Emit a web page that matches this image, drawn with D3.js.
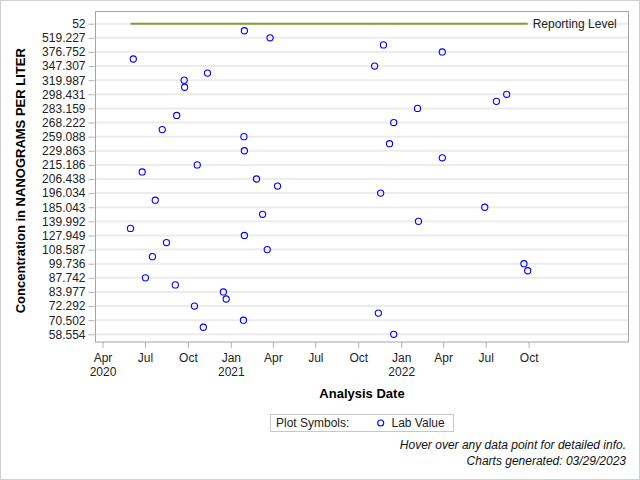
<!DOCTYPE html>
<html>
<head>
<meta charset="utf-8">
<script src="https://cdn.jsdelivr.net/npm/d3@7"></script>
<style>
  html, body { margin: 0; padding: 0; background: #fff; }
  svg { display: block; font-family: "Liberation Sans", Arial, sans-serif; }
</style>
</head>
<body>
<svg id="chart" width="640" height="480"></svg>
<script>
// ---- Data ----
const reportingLevel = "52";
const sampleDates = [
  "2021-01-30","2021-03-26","2021-11-24","2022-03-30","2020-06-06","2021-11-05",
  "2020-11-12","2020-09-23","2020-09-24","2022-08-15","2022-07-24","2022-02-05",
  "2020-09-07","2021-12-16","2020-08-07","2021-01-29","2021-12-07","2021-01-30",
  "2022-03-30","2020-10-21","2020-06-25","2021-02-25","2021-04-11","2021-11-18",
  "2020-07-23","2022-06-29","2021-03-10","2022-02-07","2020-05-31","2021-01-30",
  "2020-08-16","2021-03-20","2020-07-17","2022-09-21","2022-09-29","2020-07-02",
  "2020-09-04","2020-12-16","2020-12-22","2020-10-15","2021-11-13","2021-01-28",
  "2020-11-03","2021-12-16"
];
const sampleValues = [
  "612.45","519.227","402.118","376.752","361.04","347.307",
  "331.562","319.987","308.715","298.431","290.874","283.159",
  "275.603","268.222","263.41","259.088","243.567","229.863",
  "221.35","215.186","210.972","206.438","201.28","196.034",
  "190.615","185.043","162.47","139.992","134.118","127.949",
  "117.305","108.587","103.92","99.736","93.461","87.742",
  "85.83","83.977","78.126","72.292","71.384","70.502",
  "64.207","58.554"
];
const yTickLabels = [
  "52","519.227","376.752","347.307","319.987","298.431","283.159","268.222",
  "259.088","229.863","215.186","206.438","196.034","185.043","139.992","127.949",
  "108.587","99.736","87.742","83.977","72.292","70.502","58.554"
];
const xTickDates = [
  "2020-04-01","2020-07-01","2020-10-01","2021-01-01","2021-04-01","2021-07-01",
  "2021-10-01","2022-01-01","2022-04-01","2022-07-01","2022-10-01"
];
const xDomain = ["2020-03-17","2023-05-03"];

// ---- Setup ----
const parse = d3.timeParse("%Y-%m-%d");
const points = sampleDates.map((d, i) => ({ date: parse(d), value: sampleValues[i] }));
const categories = [reportingLevel].concat(
  sampleValues.slice().sort((a, b) => (+b) - (+a))
);

const svg = d3.select("#chart");
const plot = { left: 95.5, right: 628.5, top: 11.5, bottom: 342 };

const x = d3.scaleTime()
  .domain(xDomain.map(parse))
  .range([plot.left, plot.right]);
const y = d3.scalePoint()
  .domain(categories)
  .range([23.7, 334.3]);

// outer border
svg.append("rect")
  .attr("x", 0.5).attr("y", 0.5).attr("width", 639).attr("height", 479)
  .attr("fill", "#fff").attr("stroke", "#cfcfcf");

// gridlines
svg.append("g").selectAll("line")
  .data(yTickLabels)
  .join("line")
  .attr("x1", plot.left).attr("x2", plot.right)
  .attr("y1", d => y(d)).attr("y2", d => y(d))
  .attr("stroke", "#ececec").attr("stroke-width", 2);

// Y axis
const yAxis = d3.axisLeft(y).tickValues(yTickLabels).tickSize(6).tickPadding(3);
const yg = svg.append("g")
  .attr("transform", `translate(${plot.left - 1},0)`)
  .call(yAxis);
yg.select(".domain").remove();
yg.selectAll(".tick line").attr("stroke", "#b5b5b5");
yg.selectAll(".tick text")
  .attr("fill", "#222").style("font-size", "12px")
  .style("font-family", "Liberation Sans, Arial, sans-serif");

// X axis
const monthFmt = d3.timeFormat("%b");
const xAxis = d3.axisBottom(x)
  .tickValues(xTickDates.map(parse))
  .tickSize(6)
  .tickFormat("");
const xg = svg.append("g")
  .attr("transform", `translate(0,${plot.bottom})`)
  .call(xAxis);
xg.select(".domain").remove();
xg.selectAll(".tick line").attr("stroke", "#b5b5b5");
xg.selectAll(".tick").each(function(d, i) {
  const g = d3.select(this);
  const t = g.append("text")
    .attr("fill", "#222").attr("text-anchor", "middle")
    .style("font-size", "12px")
    .style("font-family", "Liberation Sans, Arial, sans-serif");
  t.append("tspan").attr("x", 0).attr("y", 20).text(monthFmt(d));
  if (i === 0 || d.getMonth() === 0) {
    t.append("tspan").attr("x", 0).attr("y", 34).text(d.getFullYear());
  }
});

// plot frame
svg.append("rect")
  .attr("x", plot.left).attr("y", plot.top)
  .attr("width", plot.right - plot.left).attr("height", plot.bottom - plot.top)
  .attr("fill", "none").attr("stroke", "#a4a4a4");

// reporting level line
const dExt = d3.extent(points, p => p.date);
svg.append("line")
  .attr("x1", x(dExt[0])).attr("x2", x(dExt[1]))
  .attr("y1", y(reportingLevel)).attr("y2", y(reportingLevel))
  .attr("stroke", "#7d9f3c").attr("stroke-width", 2);
svg.append("text")
  .attr("x", x(dExt[1]) + 5).attr("y", y(reportingLevel))
  .attr("dy", "0.35em")
  .attr("fill", "#222").style("font-size", "12px")
  .text("Reporting Level");

// points
svg.append("g").selectAll("circle")
  .data(points)
  .join("circle")
  .attr("cx", p => x(p.date))
  .attr("cy", p => y(p.value))
  .attr("r", 3.1)
  .attr("fill", "none")
  .attr("stroke", "#0000ff")
  .attr("stroke-width", 1.1);

// axis titles
svg.append("text")
  .attr("x", (plot.left + plot.right) / 2).attr("y", 398)
  .attr("text-anchor", "middle")
  .style("font-size", "13px").style("font-weight", "bold")
  .attr("fill", "#000")
  .text("Analysis Date");
svg.append("text")
  .attr("transform", `translate(24.5,${(plot.top + plot.bottom) / 2 + 4}) rotate(-90)`)
  .attr("text-anchor", "middle")
  .style("font-size", "13px").style("font-weight", "bold")
  .attr("fill", "#000")
  .text("Concentration in NANOGRAMS PER LITER");

// legend
const lg = svg.append("g");
lg.append("rect")
  .attr("x", 270.5).attr("y", 414.5).attr("width", 183).attr("height", 17)
  .attr("fill", "#fff").attr("stroke", "#c8c8c8");
lg.append("text")
  .attr("x", 276).attr("y", 427)
  .attr("fill", "#222").style("font-size", "12px")
  .text("Plot Symbols:");
lg.append("circle")
  .attr("cx", 380.7).attr("cy", 423).attr("r", 3)
  .attr("fill", "none").attr("stroke", "#0000ff").attr("stroke-width", 1.1);
lg.append("text")
  .attr("x", 391.5).attr("y", 427)
  .attr("fill", "#222").style("font-size", "12px")
  .text("Lab Value");

// footnotes
svg.append("text")
  .attr("x", 626).attr("y", 449).attr("text-anchor", "end")
  .style("font-size", "12px").style("font-style", "italic").attr("fill", "#111")
  .text("Hover over any data point for detailed info.");
svg.append("text")
  .attr("x", 626).attr("y", 465).attr("text-anchor", "end")
  .style("font-size", "12px").style("font-style", "italic").attr("fill", "#111")
  .text("Charts generated: 03/29/2023");
</script>
</body>
</html>
